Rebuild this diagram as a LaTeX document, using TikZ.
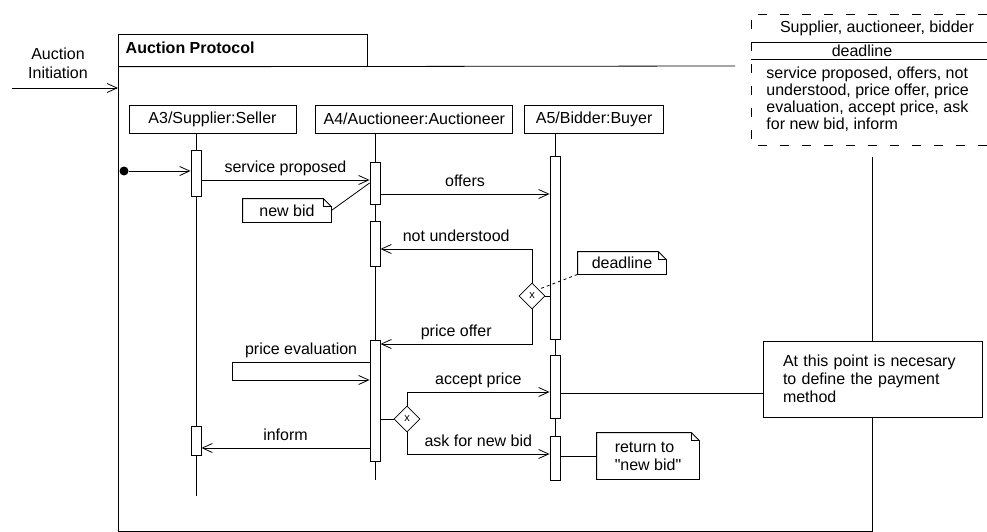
\documentclass[tikz,border=0pt]{standalone}
\usepackage{fontspec}
\setmainfont{Liberation Sans}
\usetikzlibrary{arrows.meta, positioning, calc, shapes.geometric}
\newcommand\dq{\XeTeXglyph\XeTeXcharglyph"22\relax}

\begin{document}
\begin{tikzpicture}[x=1pt, y=-1pt, line width=0.8pt,
    >={Straight Barb[length=10pt,width=9pt]},
    every node/.style={font=\fontsize{16}{18}\selectfont},
    head/.style={draw, minimum height=28pt, inner sep=0pt},
    bar/.style={draw, fill=white, minimum width=10pt, inner sep=0pt},
    gate/.style={draw, diamond, fill=white, minimum size=26pt, inner sep=0pt, font=\fontsize{11}{12}\selectfont},
    note/.style={minimum height=23pt, inner sep=0pt},
    msg/.style={above=4pt, inner sep=1pt, text depth=0.25em},
    tdash/.style={dash pattern=on 9pt off 13pt}]
    \useasboundingbox (0,0) rectangle (987,532);

    % Frame
    \node (tab) [draw, anchor=north west, minimum width=249pt, minimum height=32pt] at (118,34) {};
    \node (title) [anchor=west, font=\fontsize{16}{18}\selectfont\bfseries] at (122,48) {Auction Protocol};
    \node (init) [align=center, font=\fontsize{16}{19}\selectfont] at (58,63) {Auction\\Initiation};
    \coordinate (initl) at (12,88);
    \coordinate (initr) at (118,88);
    \draw[->] (initl) -- (initr);

    % Lifelines
    \node (sup) [head, minimum width=167pt] at (212.5,119) {A3/Supplier:Seller};
    \node (auc) [head, minimum width=197pt, right=19pt of sup] {A4/Auctioneer:Auctioneer};
    \node (bid) [head, minimum width=139pt, right=11pt of auc] {A5/Bidder:Buyer};
    \coordinate (sx) at (196,0);
    \coordinate (ax) at (375,0);
    \coordinate (bx) at (555,0);
    \draw (sup.south -| sx) -- (sx |- 0,496);
    \draw (auc.south -| ax) -- (ax |- 0,480);
    \draw (bid.south -| bx) -- (bx |- 0,480);

    % Activations
    \node (s1) [bar, minimum height=46pt] at (196,173) {};
    \node (s2) [bar, minimum height=29pt] at (196,440.5) {};
    \node (a1) [bar, minimum height=42pt] at (375,183) {};
    \node (a2) [bar, minimum height=45pt] at (375,243.5) {};
    \node (a3) [bar, minimum height=121pt] at (375,400.5) {};
    \node (b1) [bar, minimum height=183pt] at (555,247.5) {};
    \node (b2) [bar, minimum height=63pt] at (555,386.5) {};
    \node (b3) [bar, minimum height=44pt] at (555,458) {};

    % Messages
    \node (start) [circle, fill, inner sep=0pt, minimum size=9pt] at (124,171) {};
    \draw[->] (start) -- (s1.west |- start);
    \draw[->] (s1.east |- 0,180) -- node[msg] {service proposed} (a1.west |- 0,180);
    \draw[->] (a1.east |- 0,194) -- node[msg] {offers} (b1.west |- 0,194);
    \node (newbid) [note, minimum width=88pt] at (287,210.5) {new bid};
    \draw (newbid.east) -- (a1.west);

    \node (d1) [gate] at (532,296) {x};
    \draw (d1.east) -- (b1.west |- d1);
    \draw[->] (d1.north) |- node[msg, pos=0.75] {not understood} (a2.east |- 0,249);
    \draw[->] (d1.south) |- node[msg, pos=0.75] {price offer} (a3.east |- 0,344);
    \node (deadl) [note, minimum width=88pt, minimum height=22pt] at (622,263) {deadline};
    \draw[dashed] (deadl.south west) -- (d1.north east);

    \draw[->] (a3.west |- 0,362) -- node[msg] {price evaluation} ++(-137,0) -- ++(0,18) -- (a3.west |- 0,380);
    \node (d2) [gate] at (407,419) {x};
    \draw (a3.east |- d2) -- (d2.west);
    \draw[->] (d2.north) |- node[msg, pos=0.75] {accept price} (b2.west |- 0,392);
    \draw[->] (d2.south) |- node[msg, pos=0.75] {ask for new bid} (b3.west |- 0,454);
    \draw[->] (a3.west |- 0,448) -- node[msg] {inform} (s2.east |- 0,448);

    % Notes
    \node (pay) [draw, minimum width=219pt, minimum height=76pt, text width=179pt, inner xsep=20pt, align=left] at (872.5,379) {At this point is necesary\\to define the payment\\method};
    \draw (b2.east |- 0,393) -- (pay.west |- 0,393);
    \node (ret) [note, minimum width=102pt, minimum height=46pt, align=left] at (648,456) {return to\\\dq new bid\dq};
    \draw (b3.east |- ret.west) -- (ret.west);
    \foreach \n in {newbid, deadl, ret} {
      \draw (\n.south west) -- (\n.north west) -- ($(\n.north east)+(-8,0)$) -- ($(\n.north east)+(0,8)$) -- (\n.south east) -- cycle;
      \draw ($(\n.north east)+(-8,0)$) -- ++(0,8) -- ++(8,0);
    }

    % Frame border
    \draw (tab.south west) -- (735,66);
    \draw (tab.south west) -- (118,531) -- (pay.south |- 0,531) -- (pay.south);
    \draw (pay.north) -- (pay.north |- 0,157);

    % Template parameters
    \node (tsup) at (877,28) {Supplier, auctioneer, bidder};
    \node (tdead) at (862,51) {deadline};
    \node (tmsg) [anchor=north west, align=left, inner sep=0pt, font=\fontsize{16}{17}\selectfont] at (766,67) {service proposed, offers, not\\understood, price offer, price\\evaluation, accept price, ask\\for new bid, inform};
    \draw[tdash] (987,14) -| (751,145) -- (987,145);
    \draw (751,42) -- (987,42) (751,59) -- (987,59);
\end{tikzpicture}
\end{document}
